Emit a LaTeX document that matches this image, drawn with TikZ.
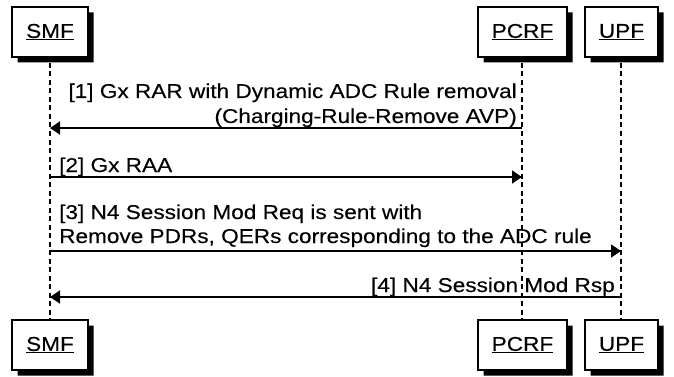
\documentclass[tikz,border=0pt]{standalone}
\usepackage{fontspec}
\setmainfont{Liberation Sans}[FakeStretch=1.13,FakeBold=0.25]
\usetikzlibrary{arrows.meta}
\tikzset{
  actor/.style={draw=black, line width=1.3pt, fill=white, minimum height=50pt, inner sep=0pt,
    font=\fontsize{20}{24}\selectfont},
  life/.style={dashed, dash pattern=on 5pt off 3.5pt, line width=1.2pt},
  msg/.style={line width=1.4pt, -{Triangle[length=10pt,width=13pt]}},
  lbl/.style={inner sep=0pt, font=\fontsize{20}{24.5}\selectfont, align=left}
}
\begin{document}
\begin{tikzpicture}[x=1pt,y=-1pt]
\useasboundingbox (0,0) rectangle (674,377);
% actor boxes
\node[actor, minimum width=76pt] (smf) at (50,32) {\underline{SMF}};
\node[actor, minimum width=89pt] (pcrf) at (522.5,32) {\underline{PCRF}};
\node[actor, minimum width=73pt] (upf) at (621.5,32) {\underline{UPF}};
\node[actor, minimum width=76pt] (smf2) at (50,345) {\underline{SMF}};
\node[actor, minimum width=89pt] (pcrf2) at (522.5,345) {\underline{PCRF}};
\node[actor, minimum width=73pt] (upf2) at (621.5,345) {\underline{UPF}};
% box shadows (L-shaped strips, right and bottom)
\foreach \L/\R/\T in {12/88/7, 478/567/7, 585/658/7, 12/88/320, 478/567/320, 585/658/320}{
  \fill[black] (\R+0.6,\T+5.5) -- (\R+5.5,\T+5.5) -- (\R+5.5,\T+55.5) -- (\L+5.5,\T+55.5)
    -- (\L+5.5,\T+50.6) -- (\R+0.6,\T+50.6) -- cycle;
}
% lifelines
\coordinate (sT) at (50,63); \coordinate (sB) at (50,320);
\coordinate (pT) at (522,63); \coordinate (pB) at (522,320);
\coordinate (uT) at (621,63); \coordinate (uB) at (621,320);
\draw[life] (sT) -- (sB);
\draw[life] (pT) -- (pB);
\draw[life] (uT) -- (uB);
% message 1
\coordinate (p1) at (522,128); \coordinate (s1) at (50,128);
\draw[msg] (p1) -- (s1);
\node[lbl, anchor=base east] (t1a) at (517,98) {[1] Gx RAR with Dynamic ADC Rule removal};
\node[lbl, anchor=base east] (t1b) at (517,123) {(Charging-Rule-Remove AVP)};
% message 2
\coordinate (s2) at (50,177); \coordinate (p2) at (522,177);
\draw[msg] (s2) -- (p2);
\node[lbl, anchor=base west] (t2) at (59,172) {[2] Gx RAA};
% message 3
\coordinate (s3) at (50,251); \coordinate (u3) at (621,251);
\draw[msg] (s3) -- (u3);
\node[lbl, anchor=base west] (t3a) at (59,219) {[3] N4 Session Mod Req is sent with};
\node[lbl, anchor=base west] (t3b) at (59,243) {Remove PDRs, QERs corresponding to the ADC rule};
% message 4
\coordinate (u4) at (621,297); \coordinate (s4) at (50,297);
\draw[msg] (u4) -- (s4);
\node[lbl, anchor=base east] (t4) at (615,292) {[4] N4 Session Mod Rsp};
\end{tikzpicture}
\end{document}
